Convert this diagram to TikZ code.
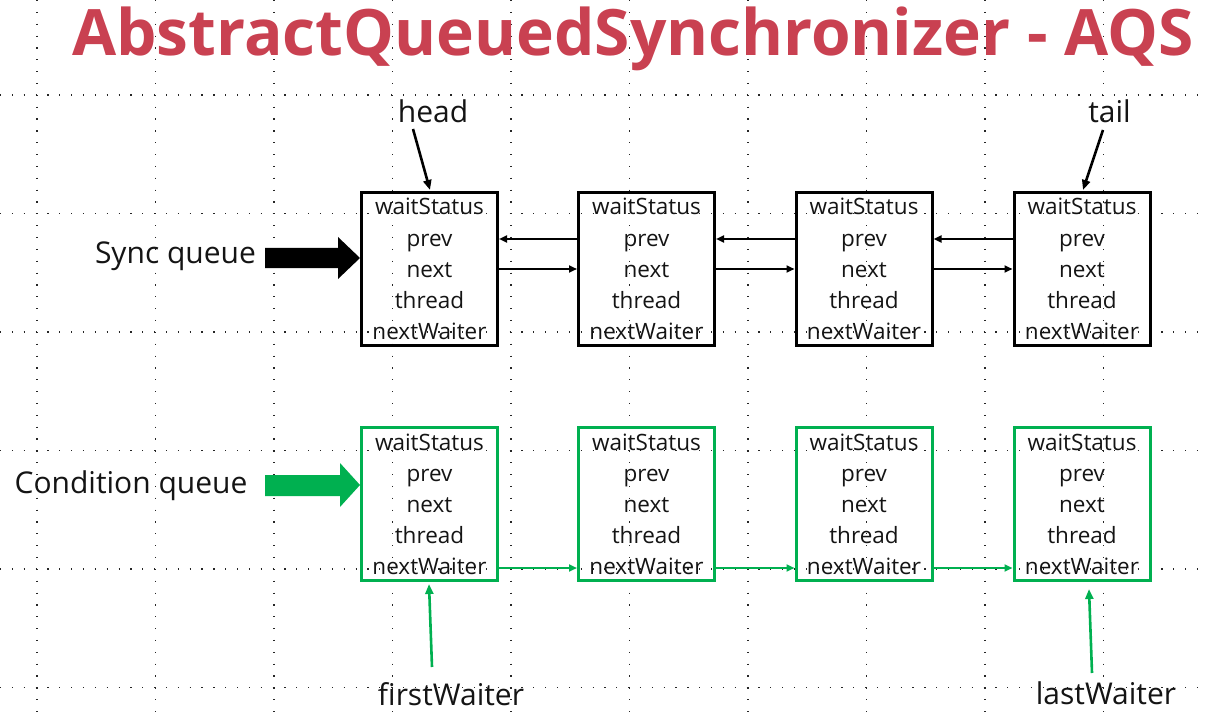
\documentclass[tikz,border=0pt]{standalone}
\usepackage{fontspec}
\setmainfont{Open Sans}
\usetikzlibrary{arrows.meta}
\definecolor{titlered}{RGB}{201,65,81}
\definecolor{qgreen}{RGB}{0,176,80}
\definecolor{txt}{RGB}{20,20,20}
\newcommand\qbox[4]{%
  \node[qboxstyle, draw=#4] (#1) at (#2,#3) {};
  \foreach \t [count=\i from 0] in {waitStatus,prev,next,thread,nextWaiter}
    \node[rowtxt] at ([yshift={-(24+31.2*\i)*1pt}]#1.north) {\t};
}
\begin{document}
\begin{tikzpicture}[x=1pt,y=-1pt,
  qboxstyle/.style={rectangle, minimum width=136pt, minimum height=153pt, inner sep=0pt, line width=3pt},
  rowtxt/.style={anchor=base, inner sep=0pt, text=txt, font=\fontsize{22.5}{26}\selectfont},
  lbl/.style={anchor=base, inner sep=0pt, text=txt, font=\fontsize{30}{34}\selectfont},
  gridline/.style={line width=1.3pt, black!85, dash pattern=on 1.2pt off 10.65pt},
  link/.style={line width=2.2pt, -{Triangle[length=8pt,width=7pt]}},
  glink/.style={line width=2pt, qgreen, -{Triangle[length=8pt,width=7pt]}},
  ptr/.style={line width=2.6pt, -{Triangle[length=10pt,width=8pt]}},
]
\useasboundingbox (0,0) rectangle (1205,714);
% grid
\foreach \k in {0,...,9}
  \draw[gridline] ({37+118.5*\k},0) -- ({37+118.5*\k},714);
\foreach \k in {0,...,5}
  \draw[gridline] (0,{95+118.5*\k}) -- (1205,{95+118.5*\k});
% title
\node[anchor=base west, inner sep=0pt, text=titlered, font=\fontsize{64}{70}\bfseries\selectfont] (title) at (72,56) {AbstractQueuedSynchronizer - AQS};
% sync queue
\qbox{s1}{429.5}{269}{black}
\qbox{s2}{646.5}{269}{black}
\qbox{s3}{864}{269}{black}
\qbox{s4}{1082}{269}{black}
% condition queue
\qbox{c1}{429.5}{504}{qgreen}
\qbox{c2}{646.5}{504}{qgreen}
\qbox{c3}{864}{504}{qgreen}
\qbox{c4}{1082}{504}{qgreen}
% labels
\node[lbl] (sync) at (175.5,263) {Sync queue};
\node[lbl] (cond) at (131,493) {Condition queue};
\node[lbl] (head) at (433,123) {head};
\node[lbl] (tail) at (1109.5,123) {tail};
\node[lbl] (fw) at (451,705) {firstWaiter};
\node[lbl] (lw) at (1106,704) {lastWaiter};
% block arrows
\fill[black] (265,248) -- (338,248) -- (338,237) -- (360,258) -- (338,279) -- (338,268) -- (265,268) -- cycle;
\fill[qgreen] (265,475) -- (340,475) -- (340,463) -- (360,485) -- (340,507) -- (340,496) -- (265,496) -- cycle;
% prev / next links
\foreach \a/\b in {s1/s2,s2/s3,s3/s4}{
  \draw[link] ([yshift=30pt]\b.west) -- ([yshift=30pt]\a.east);
  \draw[link] (\a.east) -- (\b.west);
}
\foreach \a/\b in {c1/c2,c2/c3,c3/c4}
  \draw[glink] ([yshift=-64pt]\a.east) -- ([yshift=-64pt]\b.west);
% pointers
\draw[ptr] ([shift={(-20pt,-6pt)}]head.base) -- ([xshift=0.5pt,yshift=1pt]s1.north);
\draw[ptr] ([shift={(-6.5pt,-7pt)}]tail.base) -- ([xshift=1pt,yshift=1pt]s4.north);
\draw[ptr, qgreen] ([shift={(-19pt,38pt)}]fw.base) -- ([xshift=-0.5pt,yshift=-2pt]c1.south);
\draw[ptr, qgreen] ([shift={(-14pt,31pt)}]lw.base) -- ([xshift=7pt,yshift=-7pt]c4.south);
\end{tikzpicture}
\end{document}
